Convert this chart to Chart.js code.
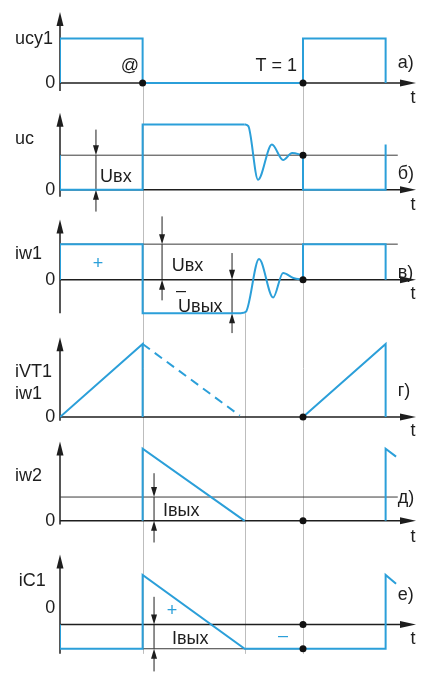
<!DOCTYPE html>
<html>
<head>
<meta charset="utf-8">
<title>Временные диаграммы</title>
<script src="https://cdn.jsdelivr.net/npm/chart.js@4.4.1/dist/chart.umd.min.js"></script>
<style>
  body { margin: 0; background: #fff; }
  #box { position: relative; width: 434px; height: 680px; }
</style>
</head>
<body>
<div id="box"><canvas id="diagram" width="434" height="680"></canvas></div>
<script>
// Время в долях периода T (T = 1)

// а) ucy1
const ucyT = [0, 0, 0.34, 0.34, 1, 1, 1.34, 1.34];
const ucyV = [0, 1, 1, 0, 0, 1, 1, 0];

// б) uc
const ucT = [0, 0, 0.34, 0.34, 0.76];
const ucV = [1, 0, 0, 1.89, 1.89];
const ucRingT = [0.76, 0.775, 0.815, 0.872, 0.918, 0.955, 1];
const ucRingV = [1.89, 1.84, 0.29, 1.31, 0.86, 1.06, 1];
const ucNextT = [1, 1, 1.34, 1.34];
const ucNextV = [1, 0, 0, 1.31];
const ucRef = 1;      // уровень Uвх

// в) iw1
const iw1T = [0, 0, 0.34, 0.34, 0.745];
const iw1V = [0, 1, 1, -0.94, -0.94];
const iw1RingT = [0.745, 0.765, 0.819, 0.877, 0.918, 0.96, 1];
const iw1RingV = [-0.94, -0.9, 0.58, -0.5, 0.19, 0.05, 0];
const iw1NextT = [1, 1, 1.34, 1.34];
const iw1NextV = [0, 1, 1, 0];
const iw1Ref = 1;

// г) iVT1, iw1
const ivtT = [0, 0.34, 0.34];
const ivtV = [0, 1, 0];
const ivtDashT = [0.34, 0.74];
const ivtDashV = [1, 0.02];
const ivtNextT = [1, 1.34, 1.34];
const ivtNextV = [0, 1, 0];

// д) iw2
const iw2T = [0.34, 0.34, 0.76];
const iw2V = [0, 1, 0];
const iw2NextT = [1.34, 1.34, 1.383];
const iw2NextV = [0, 1, 0.89];
const iw2Ref = 0.33;  // уровень Iвых

// е) iC1
const ic1T = [0, 0, 0.34, 0.34, 0.76, 1.34, 1.34, 1.383];
const ic1V = [0, -0.33, -0.33, 0.68, -0.33, -0.33, 0.68, 0.56];
const ic1Low = -0.33;

const refEnd = 1.39;
const tMax = 1.465;

// --- оформление ---
const H = 680;
const blue = '#2b9fd9';
const ink = '#1e1e1e';
const font = '18px "Liberation Sans", Arial, sans-serif';

// панели: положение нуля и масштаб по вертикали (пиксели)
const panels = [
  { id: 'ya', zero: 80,  unit: 45, axisTop: 1.6,  axisBottom: -0.18 },
  { id: 'yb', zero: 188, unit: 35, axisTop: 2.23, axisBottom: -0.2 },
  { id: 'yv', zero: 279, unit: 36, axisTop: 1.69, axisBottom: -0.94 },
  { id: 'yg', zero: 418, unit: 74, axisTop: 1.09, axisBottom: -0.05 },
  { id: 'yd', zero: 523, unit: 73, axisTop: 1.1,  axisBottom: -0.05 },
  { id: 'ye', zero: 628, unit: 74, axisTop: 0.96, axisBottom: -0.4 }
];

// надписи: ось, t, значение, текст, выравнивание, цвет
const labels = [
  ['ya', -0.185, 1, 'ucy1', 'left'],
  ['ya', -0.02, 0, '0', 'right'],
  ['ya', 0.288, 0.38, '@', 'center'],
  ['ya', 0.89, 0.38, 'T = 1', 'center'],
  ['ya', 1.39, 0.44, 'а)', 'left'],
  ['ya', 1.453, -0.33, 't', 'center'],

  ['yb', -0.185, 1.46, 'uc', 'left'],
  ['yb', -0.02, 0, '0', 'right'],
  ['yb', 0.165, 0.37, 'Uвх', 'left'],
  ['yb', 1.39, 0.46, 'б)', 'left'],
  ['yb', 1.453, -0.43, 't', 'center'],

  ['yv', -0.185, 0.72, 'iw1', 'left'],
  ['yv', -0.02, 0, '0', 'right'],
  ['yv', 0.156, 0.44, '+', 'center', blue],
  ['yv', 0.46, 0.39, 'Uвх', 'left'],
  ['yv', 0.498, -0.31, '–', 'center'],
  ['yv', 0.486, -0.78, 'Uвых', 'left'],
  ['yv', 1.39, 0.19, 'в)', 'left'],
  ['yv', 1.453, -0.39, 't', 'center'],

  ['yg', -0.185, 0.62, 'iVT1', 'left'],
  ['yg', -0.185, 0.32, 'iw1', 'left'],
  ['yg', -0.02, 0, '0', 'right'],
  ['yg', 1.39, 0.35, 'г)', 'left'],
  ['yg', 1.453, -0.19, 't', 'center'],

  ['yd', -0.185, 0.62, 'iw2', 'left'],
  ['yd', -0.02, 0, '0', 'right'],
  ['yd', 0.424, 0.14, 'Iвых', 'left'],
  ['yd', 1.39, 0.32, 'д)', 'left'],
  ['yd', 1.453, -0.23, 't', 'center'],

  ['ye', -0.17, 0.59, 'iC1', 'left'],
  ['ye', -0.02, 0.22, '0', 'right'],
  ['ye', 0.461, 0.18, '+', 'center', blue],
  ['ye', 0.461, -0.2, 'Iвых', 'left'],
  ['ye', 0.918, -0.16, '–', 'center', blue],
  ['ye', 1.39, 0.4, 'е)', 'left'],
  ['ye', 1.453, -0.2, 't', 'center']
];

// размерные стрелки
const dims = [
  { axis: 'yb', t: 0.148, a: 1, b: 0, topFrom: 1.74, bottomFrom: -0.63 },
  { axis: 'yv', t: 0.42, a: 1, b: 0, topFrom: 1.78, bottomFrom: -0.58 },
  { axis: 'yv', t: 0.708, a: 0, b: -0.94, topFrom: 0.75, bottomFrom: -1.5 },
  { axis: 'yd', t: 0.387, a: 0.33, b: 0, topFrom: 0.66, bottomFrom: -0.3 },
  { axis: 'ye', t: 0.387, a: 0, b: -0.33, topFrom: 0.38, bottomFrom: -0.64 }
];

// вертикальные линии-ориентиры
const guides = [
  { t: 0.34, from: ['ya', 0], to: ['ye', -0.4] },
  { t: 0.76, from: ['yv', -0.94], to: ['ye', -0.4] },
  { t: 1, from: ['ya', 0], to: ['ye', -0.4] }
];

function pts(ts, vs) {
  return ts.map((t, i) => ({ x: t, y: vs[i] }));
}

function trace(ts, vs, axis, extra) {
  return Object.assign({
    data: pts(ts, vs),
    yAxisID: axis,
    borderColor: blue,
    borderWidth: 2,
    pointRadius: 0,
    fill: false,
    tension: 0,
    order: 1
  }, extra || {});
}

function refLine(t0, t1, v, axis) {
  return {
    data: pts([t0, t1], [v, v]),
    yAxisID: axis,
    borderColor: '#3a3a3a',
    borderWidth: 1,
    pointRadius: 0,
    fill: false,
    order: 2
  };
}

function dots(ts, vs, axis) {
  return {
    data: pts(ts, vs),
    yAxisID: axis,
    showLine: false,
    pointRadius: 3.5,
    pointBackgroundColor: '#111',
    pointBorderWidth: 0,
    order: 0
  };
}

const ring = { cubicInterpolationMode: 'monotone' };

const datasets = [
  trace(ucyT, ucyV, 'ya'),
  dots([0.34, 1], [0, 0], 'ya'),

  refLine(0, refEnd, ucRef, 'yb'),
  trace(ucT, ucV, 'yb'),
  trace(ucRingT, ucRingV, 'yb', ring),
  trace(ucNextT, ucNextV, 'yb'),
  dots([1], [ucRef], 'yb'),

  refLine(0, refEnd, iw1Ref, 'yv'),
  trace(iw1T, iw1V, 'yv'),
  trace(iw1RingT, iw1RingV, 'yv', ring),
  trace(iw1NextT, iw1NextV, 'yv'),
  dots([1], [0], 'yv'),

  trace(ivtT, ivtV, 'yg'),
  trace(ivtDashT, ivtDashV, 'yg', { borderDash: [9, 6] }),
  trace(ivtNextT, ivtNextV, 'yg'),
  dots([1], [0], 'yg'),

  refLine(0, refEnd, iw2Ref, 'yd'),
  trace(iw2T, iw2V, 'yd'),
  trace(iw2NextT, iw2NextV, 'yd'),
  dots([1], [0], 'yd'),

  refLine(0.34, 1, ic1Low, 'ye'),
  trace(ic1T, ic1V, 'ye'),
  dots([1, 1], [0, ic1Low], 'ye')
];

const scales = {
  x: { type: 'linear', display: false, min: 0, max: tMax }
};
panels.forEach(p => {
  scales[p.id] = {
    type: 'linear',
    display: false,
    min: -(H - p.zero) / p.unit,
    max: p.zero / p.unit
  };
});

function head(ctx, x, y, dx, dy, len, half) {
  ctx.beginPath();
  ctx.moveTo(x, y);
  ctx.lineTo(x - dx * len - dy * half, y - dy * len + dx * half);
  ctx.lineTo(x - dx * len + dy * half, y - dy * len - dx * half);
  ctx.closePath();
  ctx.fill();
}

function seg(ctx, x1, y1, x2, y2) {
  ctx.beginPath();
  ctx.moveTo(x1, y1);
  ctx.lineTo(x2, y2);
  ctx.stroke();
}

const diagram = {
  id: 'diagram',
  beforeDatasetsDraw(chart) {
    const ctx = chart.ctx;
    const xs = chart.scales.x;
    ctx.save();

    // ориентиры
    ctx.strokeStyle = '#bdbdbd';
    ctx.lineWidth = 1;
    guides.forEach(g => {
      const px = Math.round(xs.getPixelForValue(g.t)) + 0.5;
      seg(ctx, px, chart.scales[g.from[0]].getPixelForValue(g.from[1]),
        px, chart.scales[g.to[0]].getPixelForValue(g.to[1]));
    });

    // оси
    ctx.strokeStyle = ink;
    ctx.fillStyle = ink;
    ctx.lineWidth = 1.5;
    const x0 = xs.getPixelForValue(0);
    const xEnd = xs.getPixelForValue(tMax);
    panels.forEach(p => {
      const ys = chart.scales[p.id];
      const y0 = ys.getPixelForValue(0);
      const yTop = ys.getPixelForValue(p.axisTop);
      seg(ctx, x0, ys.getPixelForValue(p.axisBottom), x0, yTop + 10);
      head(ctx, x0, yTop, 0, -1, 14, 3.5);
      seg(ctx, x0, y0, xEnd - 10, y0);
      head(ctx, xEnd, y0, 1, 0, 16, 3.5);
    });

    // размерные стрелки
    ctx.lineWidth = 1;
    dims.forEach(d => {
      const ys = chart.scales[d.axis];
      const px = xs.getPixelForValue(d.t);
      const ya = ys.getPixelForValue(d.a);
      const yb = ys.getPixelForValue(d.b);
      seg(ctx, px, ys.getPixelForValue(d.topFrom), px, ya - 6);
      head(ctx, px, ya, 0, 1, 10, 3);
      seg(ctx, px, ys.getPixelForValue(d.bottomFrom), px, yb + 6);
      head(ctx, px, yb, 0, -1, 10, 3);
      seg(ctx, px, ya, px, yb);
    });
    ctx.restore();
  },
  afterDatasetsDraw(chart) {
    const ctx = chart.ctx;
    const xs = chart.scales.x;
    ctx.save();
    ctx.font = font;
    ctx.textBaseline = 'middle';
    labels.forEach(l => {
      ctx.fillStyle = l[5] || ink;
      ctx.textAlign = l[4];
      ctx.fillText(l[3], xs.getPixelForValue(l[1]), chart.scales[l[0]].getPixelForValue(l[2]));
    });
    ctx.restore();
  }
};

new Chart(document.getElementById('diagram'), {
  type: 'line',
  data: { datasets: datasets },
  options: {
    responsive: false,
    animation: false,
    devicePixelRatio: 1,
    events: [],
    layout: { padding: { left: 60, right: 18, top: 0, bottom: 0 } },
    scales: scales,
    plugins: {
      legend: { display: false },
      tooltip: { enabled: false }
    }
  },
  plugins: [diagram]
});
</script>
</body>
</html>
